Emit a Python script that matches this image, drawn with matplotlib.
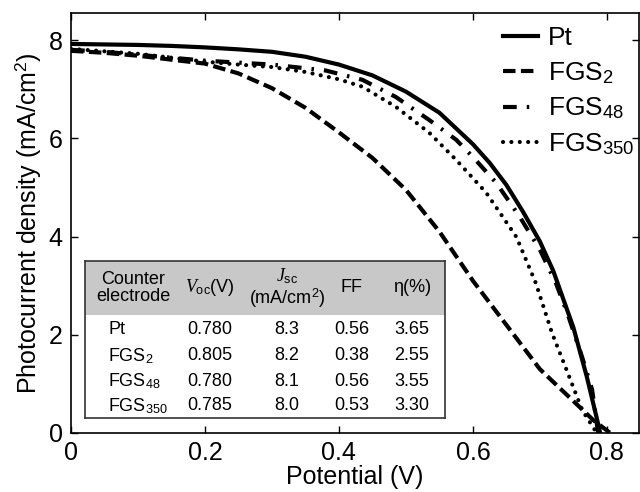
import matplotlib.pyplot as plt
import numpy as np

plt.rcParams['font.family'] = ['Liberation Sans', 'DejaVu Sans']
plt.rcParams['mathtext.fontset'] = 'custom'
plt.rcParams['mathtext.rm'] = 'Liberation Sans'
plt.rcParams['mathtext.it'] = 'Liberation Serif:italic'

# J-V curves (V in volts, J in mA/cm2)
pt_v = [0, 0.05, 0.1, 0.15, 0.2, 0.25, 0.3, 0.35, 0.4, 0.45, 0.5, 0.55, 0.6,
        0.625, 0.65, 0.675, 0.7, 0.72, 0.75, 0.77, 0.785, 0.79]
pt_j = [7.92, 7.91, 7.9, 7.88, 7.85, 7.81, 7.76, 7.66, 7.5, 7.28, 6.95, 6.52,
        5.88, 5.5, 5.05, 4.5, 3.9, 3.3, 2.15, 1.15, 0.3, 0.0]

fgs2_v = [0, 0.05, 0.1, 0.15, 0.2, 0.25, 0.3, 0.35, 0.4, 0.45, 0.5, 0.55, 0.6,
          0.65, 0.7, 0.75, 0.78, 0.805]
fgs2_j = [7.78, 7.74, 7.68, 7.6, 7.52, 7.32, 7.02, 6.62, 6.12, 5.6, 4.95, 4.1,
          3.1, 2.2, 1.3, 0.65, 0.26, 0.0]

fgs48_v = [0, 0.05, 0.1, 0.15, 0.2, 0.25, 0.3, 0.38, 0.435, 0.485, 0.535, 0.575,
           0.6, 0.635, 0.67, 0.7, 0.724, 0.743, 0.763, 0.778, 0.787]
fgs48_j = [7.8, 7.76, 7.7, 7.64, 7.58, 7.54, 7.5, 7.38, 7.19, 6.84, 6.37, 5.97,
           5.62, 5.09, 4.4, 3.73, 3.05, 2.36, 1.55, 0.88, 0.0]

fgs350_v = [0, 0.05, 0.1, 0.15, 0.2, 0.25, 0.3, 0.35, 0.4, 0.435, 0.485, 0.535,
            0.575, 0.62, 0.665, 0.694, 0.718, 0.744, 0.763, 0.785]
fgs350_j = [7.82, 7.77, 7.72, 7.64, 7.56, 7.5, 7.45, 7.35, 7.2, 7.05, 6.64, 6.11,
            5.56, 4.89, 3.99, 3.05, 2.04, 1.14, 0.47, 0.0]

# table values
t_names = ['Pt', 'FGS$_{2}$', 'FGS$_{48}$', 'FGS$_{350}$']
t_voc = ['0.780', '0.805', '0.780', '0.785']
t_jsc = ['8.3', '8.2', '8.1', '8.0']
t_ff = ['0.56', '0.38', '0.56', '0.53']
t_eta = ['3.65', '2.55', '3.55', '3.30']

fig = plt.figure(figsize=(6.4, 4.92), dpi=100)
ax = fig.add_axes([71 / 640, 1 - 433 / 492, 568 / 640, 420 / 492])

lw = 3
ax.plot(pt_v, pt_j, color='black', lw=lw, ls='-', label='Pt')
ax.plot(fgs2_v, fgs2_j, color='black', lw=lw, ls=(0, (3, 1.3)), label='FGS$_{2}$')
ax.plot(fgs48_v, fgs48_j, color='black', lw=lw, ls=(0, (3.3, 2.4, 0.6, 2.4)),
        label='FGS$_{48}$')
ax.plot(fgs350_v, fgs350_j, color='black', lw=lw, ls=(0, (0.01, 2)),
        dash_capstyle='round', label='FGS$_{350}$')

ax.set_xlim(0, 0.848)
ax.set_ylim(0, 8.55)
ax.set_xticks([0, 0.2, 0.4, 0.6, 0.8])
ax.set_xticklabels(['0', '0.2', '0.4', '0.6', '0.8'])
ax.set_yticks([0, 2, 4, 6, 8])
ax.tick_params(direction='in', top=True, right=True, length=5, width=1,
               labelsize=18, pad=6)
for s in ax.spines.values():
    s.set_linewidth(1.2)
ax.set_xlabel('Potential (V)', fontsize=18, labelpad=0)
ax.set_ylabel('Photocurrent density (mA/cm$^2$)', fontsize=18, labelpad=4)

ax.legend(loc='upper right', bbox_to_anchor=(1.015, 1.0), frameon=False,
          fontsize=19, handlelength=1.33, handletextpad=0.38, labelspacing=0.38,
          borderaxespad=0.1)

# inset table
tx = fig.add_axes([85 / 640, 1 - 418 / 492, 360 / 640, 157 / 492])
tx.set_xlim(0, 360)
tx.set_ylim(157, 0)
tx.set_xticks([])
tx.set_yticks([])
for s in tx.spines.values():
    s.set_linewidth(1.2)
    s.set_color('#333333')
tx.axhspan(0, 54, color='#c8c8c8', lw=0)

fs = 13
col_x = [48, 125, 202, 267, 327]
tx.text(col_x[0], 27, 'Counter\nelectrode', ha='center', va='center',
        fontsize=fs, linespacing=1.0)
tx.text(col_x[1], 27, '$V_{\\mathrm{oc}}$(V)', ha='center', va='center', fontsize=fs)
tx.text(col_x[2], 27, '$J_{\\mathrm{sc}}$\n(mA/cm$^2$)', ha='center', va='center',
        fontsize=fs, linespacing=1.0)
tx.text(col_x[3], 27, 'FF', ha='center', va='center', fontsize=fs)
tx.text(col_x[4], 27, 'η(%)', ha='center', va='center', fontsize=fs)

row_y = [69, 95, 120, 145]
for i in range(len(t_names)):
    tx.text(23, row_y[i], t_names[i], ha='left', va='center', fontsize=fs)
    tx.text(col_x[1], row_y[i], t_voc[i], ha='center', va='center', fontsize=fs)
    tx.text(col_x[2], row_y[i], t_jsc[i], ha='center', va='center', fontsize=fs)
    tx.text(col_x[3], row_y[i], t_ff[i], ha='center', va='center', fontsize=fs)
    tx.text(col_x[4], row_y[i], t_eta[i], ha='center', va='center', fontsize=fs)

fig.savefig('out.png', dpi=100)
